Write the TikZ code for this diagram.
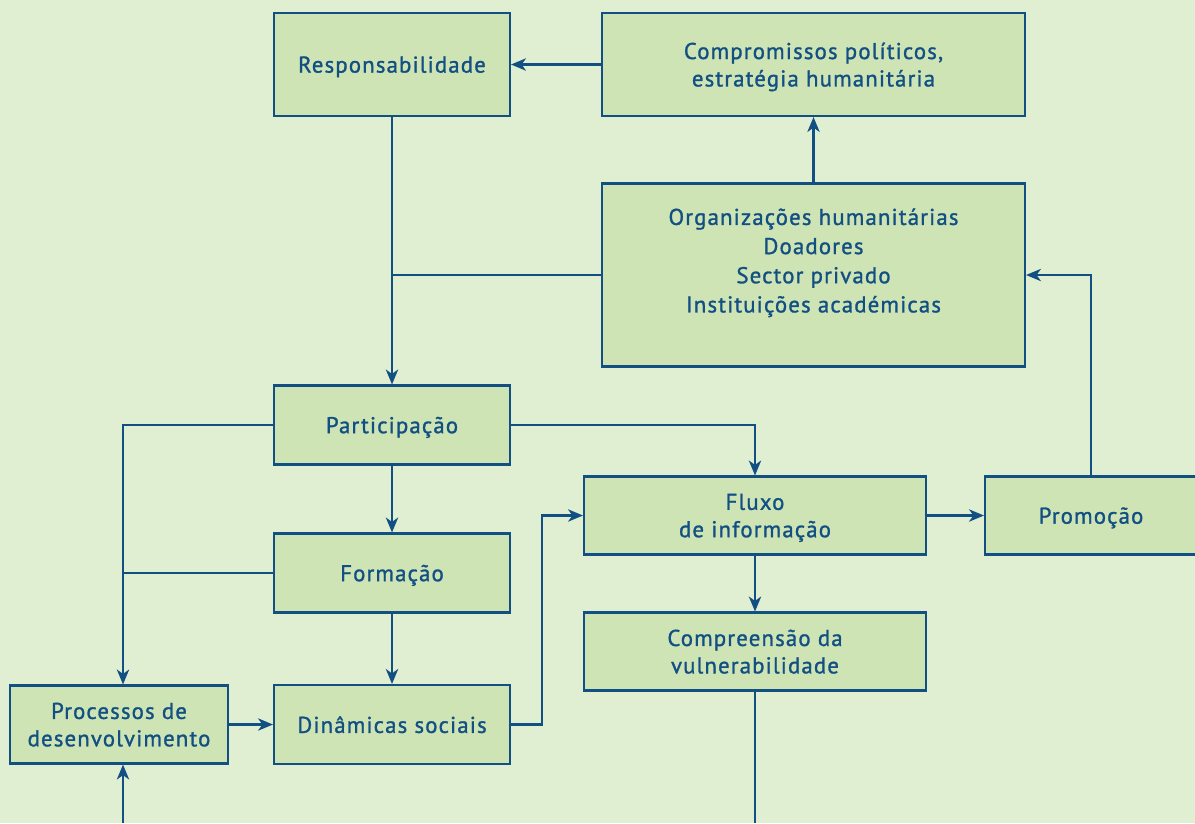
\documentclass[tikz,border=0pt]{standalone}
\usepackage{fontspec}
\setmainfont{PT Sans}[LetterSpace=5, FakeBold=1.2]
\usepackage{tikz}
\usetikzlibrary{arrows.meta}

\definecolor{bgcol}{RGB}{224,238,210}
\definecolor{boxcol}{RGB}{206,228,180}
\definecolor{inkcol}{RGB}{18,80,132}

\begin{document}
\begin{tikzpicture}[x=0.02cm, y=-0.02cm,
    every node/.style={font=\fontsize{13}{15.6}\selectfont, text=inkcol},
    box/.style={draw=inkcol, fill=boxcol, line width=1.2pt, align=center, inner sep=2pt, text depth=0pt},
    arr/.style={-{Stealth[length=8.5pt,width=7pt,inset=2.5pt]}},
    link/.style={draw=inkcol, line width=1.2pt}]
      % Background
      \fill[bgcol] (0,0) rectangle (1195,823);
      \useasboundingbox (0,0) rectangle (1195,823);

      % Boxes
      \node[box, minimum width=4.72cm, minimum height=2.06cm] (resp) at (392,64.5) {Responsabilidade};
      \node[box, minimum width=8.46cm, minimum height=2.06cm] (compromissos) at (813.5,64.5) {Compromissos políticos,\\ estratégia humanitária};
      \node[box, minimum width=8.46cm, minimum height=3.66cm, font=\fontsize{13}{16.6}\selectfont] (org) at (813.5,275) {Organizações humanitárias\\ Doadores\\ Sector privado\\ Instituições académicas\\ \strut};
      \node[box, minimum width=4.72cm, minimum height=1.58cm] (particip) at (392,425) {Participação};
      \node[box, minimum width=4.72cm, minimum height=1.58cm] (formacao) at (392,573) {Formação};
      \node[box, minimum width=4.72cm, minimum height=1.58cm] (dinamicas) at (392,724.5) {Dinâmicas sociais};
      \node[box, minimum width=4.36cm, minimum height=1.56cm] (processos) at (119,724.5) {Processos de\\ desenvolvimento};
      \node[box, minimum width=6.84cm, minimum height=1.56cm] (fluxo) at (755,515.5) {Fluxo\\ de informação};
      \node[box, minimum width=6.84cm, minimum height=1.56cm] (compreensao) at (755,651.5) {Compreensão da\\ vulnerabilidade};
      \node[box, minimum width=4.24cm, minimum height=1.56cm] (promocao) at (1091,515.5) {Promoção};

      % Free ends at the bottom edge
      \coordinate (bottomL) at (123,823);
      \coordinate (bottomR) at (755,823);

      % Connectors
      \draw[link, arr] (compromissos.west) -- (resp.east);
      \draw[link, arr] (org.north) -- (compromissos.south);
      \draw[link, arr] (resp.south) -- (particip.north);
      \draw[link] (org.west) -- (org.west -| resp.south);
      \draw[link, arr] (promocao.north) |- (org.east);
      \draw[link, arr] (particip.east) -| (fluxo.north);
      \draw[link, arr] (particip.west) -| (processos.north -| bottomL);
      \draw[link] (formacao.west) -- (formacao.west -| bottomL);
      \draw[link, arr] (particip.south) -- (formacao.north);
      \draw[link, arr] (formacao.south) -- (dinamicas.north);
      \draw[link, arr] (processos.east) -- (dinamicas.west);
      \draw[link, arr] (dinamicas.east) -- ++(31,0) |- (fluxo.west);
      \draw[link, arr] (fluxo.east) -- (promocao.west);
      \draw[link, arr] (fluxo.south) -- (compreensao.north);
      \draw[link] (compreensao.south) -- (bottomR);
      \draw[link, arr] (bottomL) -- (processos.south -| bottomL);
    \end{tikzpicture}
\end{document}
